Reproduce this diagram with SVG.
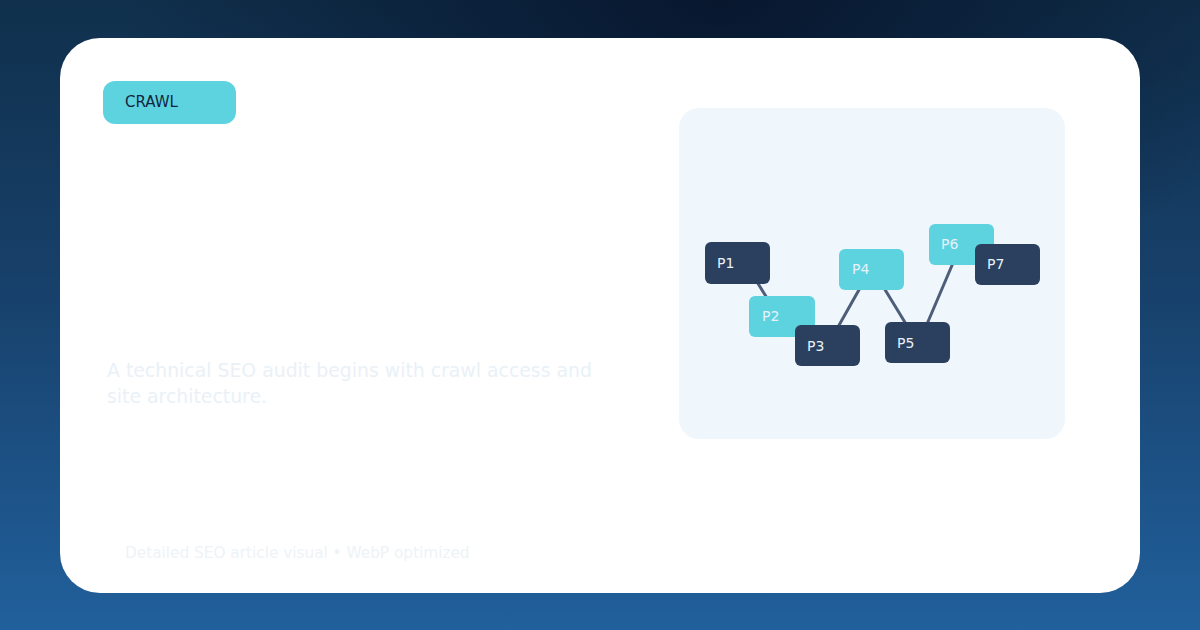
<svg xmlns="http://www.w3.org/2000/svg" width="1200" height="630" viewBox="0 0 1200 630">
<defs>
<linearGradient id="bg" x1="0" y1="0" x2="0" y2="1">
<stop offset="0" stop-color="#10304c"/>
<stop offset="0.45" stop-color="#17406a"/>
<stop offset="1" stop-color="#21609c"/>
</linearGradient>
<radialGradient id="dark" cx="0.6" cy="0" r="0.5">
<stop offset="0" stop-color="#07142b" stop-opacity="0.9"/>
<stop offset="1" stop-color="#07142b" stop-opacity="0"/>
</radialGradient>
<style>
.node text{font-family:"DejaVu Sans",sans-serif;font-size:14px;fill:#e8f2fa}
.dk{fill:#2b3f5e}
.cy{fill:#5ed3e0}
.edge{stroke:#4d5d7a;stroke-width:3;stroke-linecap:round}
</style>
</defs>
<rect width="1200" height="630" fill="url(#bg)"/>
<rect width="1200" height="630" fill="url(#dark)"/>
<rect x="60" y="38" width="1080" height="555" rx="40" fill="#ffffff"/>
<g id="tag">
<rect x="103" y="81" width="133" height="43" rx="12" fill="#5ed3e0"/>
<text x="125" y="107" font-family="DejaVu Sans, sans-serif" font-size="15" fill="#12263d">CRAWL</text>
</g>
<g id="desc" font-family="DejaVu Sans, sans-serif" font-size="18.85" fill="#e9f1f7">
<text x="107" y="377">A technical SEO audit begins with crawl access and</text>
<text x="107" y="403">site architecture.</text>
</g>
<text id="footer" x="125" y="558" font-family="DejaVu Sans, sans-serif" font-size="15.3" fill="#eef3f7">Detailed SEO article visual • WebP optimized</text>
<rect id="panel" x="679" y="108" width="386" height="331" rx="20" fill="#eff6fc"/>
<g id="connectors">
<line class="edge" x1="757" y1="282" x2="767" y2="298"/>
<line class="edge" x1="860" y1="288" x2="838" y2="327"/>
<line class="edge" x1="884" y1="288" x2="906" y2="324"/>
<line class="edge" x1="953" y1="263" x2="927" y2="324"/>
</g>
<g id="P1" class="node"><rect class="dk" x="705" y="242" width="65" height="42" rx="6"/><text x="717" y="268">P1</text></g>
<g id="P2" class="node"><rect class="cy" x="749" y="296" width="66" height="41" rx="6"/><text x="762" y="321">P2</text></g>
<g id="P3" class="node"><rect class="dk" x="795" y="325" width="65" height="41" rx="6"/><text x="807" y="351">P3</text></g>
<g id="P4" class="node"><rect class="cy" x="839" y="249" width="65" height="41" rx="6"/><text x="852" y="274">P4</text></g>
<g id="P5" class="node"><rect class="dk" x="885" y="322" width="65" height="41" rx="6"/><text x="897" y="348">P5</text></g>
<g id="P6" class="node"><rect class="cy" x="929" y="224" width="65" height="41" rx="6"/><text x="941" y="249">P6</text></g>
<g id="P7" class="node"><rect class="dk" x="975" y="244" width="65" height="41" rx="6"/><text x="987" y="269">P7</text></g>
</svg>
